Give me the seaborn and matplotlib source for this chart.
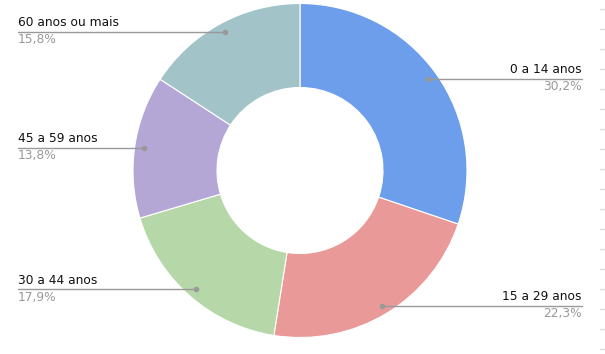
import numpy as np
import matplotlib
matplotlib.use("Agg")
import matplotlib.pyplot as plt
import seaborn as sns
from matplotlib.lines import Line2D

categories = ["0 a 14 anos", "15 a 29 anos", "30 a 44 anos", "45 a 59 anos", "60 anos ou mais"]
values = [30.2, 22.3, 17.9, 13.8, 15.8]
pct_labels = ["30,2%", "22,3%", "17,9%", "13,8%", "15,8%"]
colors = ["#6d9eeb", "#ea9999", "#b6d7a8", "#b4a7d6", "#a2c4c9"]

sns.set_theme(style="white")
plt.rcParams["font.family"] = ["DejaVu Sans"]

W, H = 605, 354
fig = plt.figure(figsize=(W / 100, H / 100), dpi=100)
ax = fig.add_axes([0, 0, 1, 1])

cx, cy = 300, H - 170.5
R = 167
r_in = 83

ax.pie(values, colors=sns.color_palette(colors), startangle=90, counterclock=False,
       center=(cx, cy), radius=R,
       wedgeprops=dict(width=R - r_in, edgecolor="white", linewidth=0.8))
ax.set_xlim(0, W)
ax.set_ylim(0, H)
ax.set_aspect("auto")
ax.axis("off")

total = sum(values)
cum = 0.0
for cat, v, p in zip(categories, values, pct_labels):
    mid = cum + v / 2
    cum += v
    ang = np.deg2rad(90 - 360 * mid / total)
    px = cx + 0.945 * R * np.cos(ang)
    py = cy + 0.945 * R * np.sin(ang)
    if np.cos(ang) > 0:
        xe, ha = 582, "right"
    else:
        xe, ha = 18, "left"
    ax.plot([px, xe], [py, py], color="#999999", lw=1, zorder=5)
    ax.plot([px], [py], "o", color="#999999", ms=3, zorder=6)
    ax.text(xe, py + 2.5, cat, ha=ha, va="bottom", fontsize=8.8, color="#111111")
    ax.text(xe, py - 1.5, p, ha=ha, va="top", fontsize=8.8, color="#999999")

# faint tick marks along right edge
for y in range(9, 350, 20):
    fig.add_artist(Line2D([600 / W, 1.0], [1 - y / H, 1 - y / H], color="#dddddd", lw=1,
                          transform=fig.transFigure))

fig.savefig("out.png", dpi=100)
